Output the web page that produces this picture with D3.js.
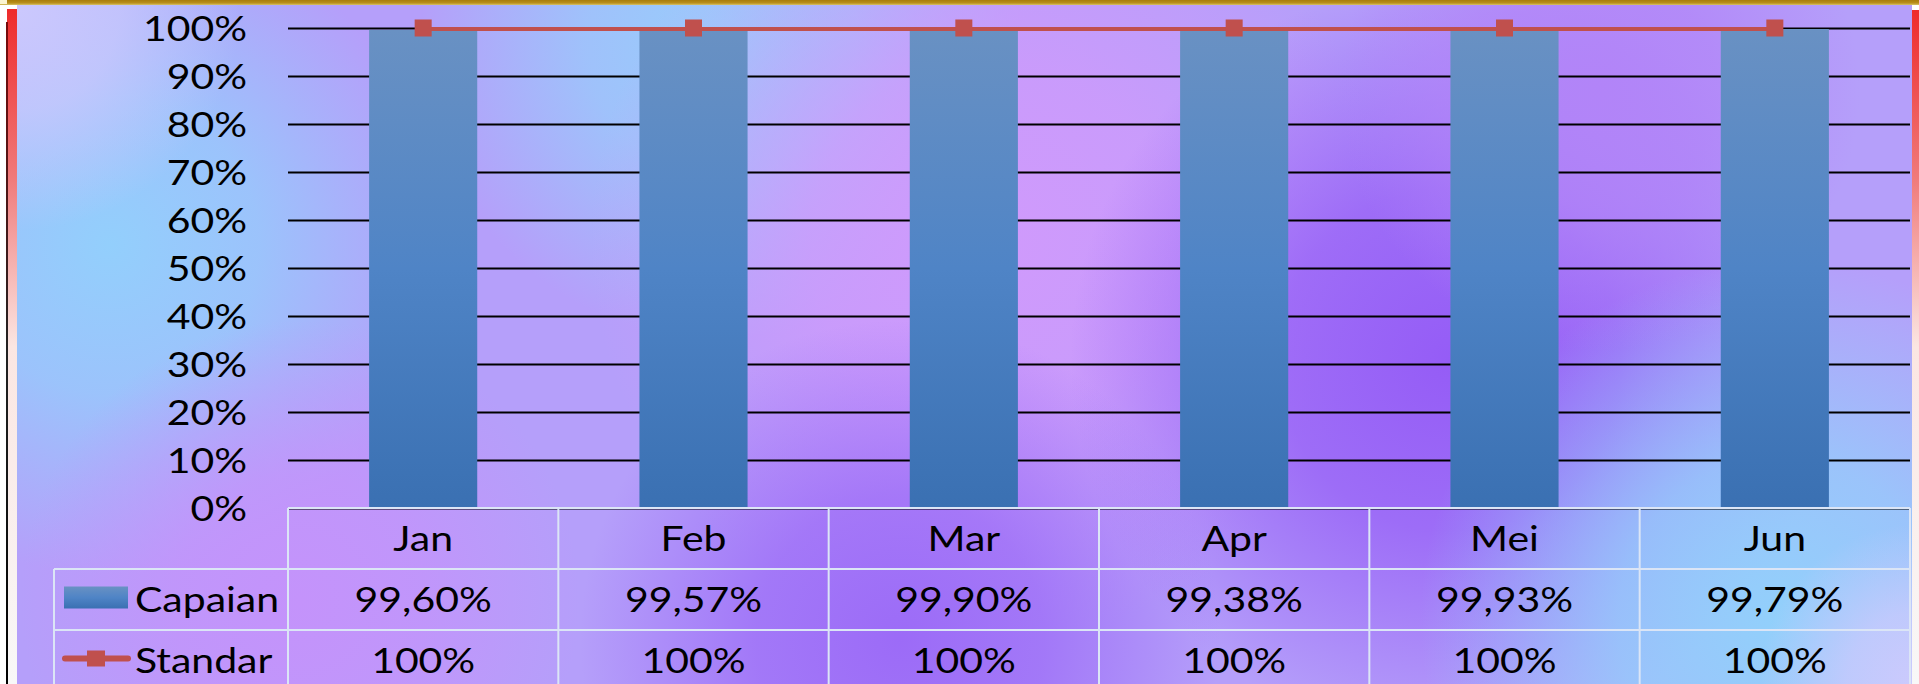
<!DOCTYPE html>
<html>
<head>
<meta charset="utf-8">
<script src="https://cdn.jsdelivr.net/npm/d3@7"></script>
<style>
  html, body { margin: 0; padding: 0; background: #fff; overflow: hidden; }
  svg { display: block; }
  text { font-family: Lato, 'Open Sans', sans-serif; font-size: 35px; fill: #000; }
  /* the source slide was stretched sideways, so the text is too */
  .wide { transform-box: fill-box; transform: scaleX(1.17); }
  .wide.mid { transform-origin: center; }
  .wide.end { transform-origin: right; }
  .wide.start { transform-origin: left; }
</style>
</head>
<body>
<div class="chart"></div>
<script>
const months  = ['Jan', 'Feb', 'Mar', 'Apr', 'Mei', 'Jun'];
const capaian = [0.9960, 0.9957, 0.9990, 0.9938, 0.9993, 0.9979];
const standar = [1, 1, 1, 1, 1, 1];
const series  = ['Capaian', 'Standar'];
const yTicks  = [0, 0.1, 0.2, 0.3, 0.4, 0.5, 0.6, 0.7, 0.8, 0.9, 1];

const svgSize = { width: 1919, height: 684 };
const plot = { left: 288, right: 1910, top: 28, bottom: 508 };
const tableLeft = 54;
const rowH = 61;

const idLocale = d3.formatLocale({ decimal: ',', thousands: '.', grouping: [3], currency: ['Rp', ''] });
const fmtValue = idLocale.format('.2%');
const fmtPct   = idLocale.format('.0%');

const svg = d3.select('.chart')
    .append('svg')
    .attr('width', svgSize.width)
    .attr('height', svgSize.height)
;
const defs = svg.append('defs');

// ---- background: soft blue / violet blotches
const blobs = [
    { cx: 110,  cy: 245, r: 330, c: '#93cffc' },
    { cx: 20,   cy: 10,  r: 220, c: '#cbc8fd' },
    { cx: 720,  cy: 40,  r: 300, c: '#98cdfb' },
    { cx: 990,  cy: 240, r: 400, c: '#d09afc' },
    { cx: 300,  cy: 600, r: 280, c: '#c493fb' },
    { cx: 1450, cy: 360, r: 380, c: '#955cf6' },
    { cx: 900,  cy: 640, r: 320, c: '#9c6bf7' },
    { cx: 1600, cy: 90,  r: 260, c: '#b284f8' },
    { cx: 1780, cy: 620, r: 360, c: '#92d0fb' },
    { cx: 1919, cy: 684, r: 160, c: '#cccafd' },
];

svg.append('rect')
    .attr('x', 17).attr('y', 5)
    .attr('width', 1895).attr('height', 679)
    .attr('fill', '#b59ffa');

blobs.forEach((b, i) => {
    const g = defs.append('radialGradient').attr('id', `blob${i}`);
    g.append('stop').attr('offset', 0).attr('stop-color', b.c).attr('stop-opacity', 1);
    g.append('stop').attr('offset', 0.45).attr('stop-color', b.c).attr('stop-opacity', 0.75);
    g.append('stop').attr('offset', 1).attr('stop-color', b.c).attr('stop-opacity', 0);
});
svg.append('clipPath').attr('id', 'bgclip')
    .append('rect').attr('x', 17).attr('y', 5).attr('width', 1895).attr('height', 679);
svg.append('g').attr('clip-path', 'url(#bgclip)')
    .selectAll('circle').data(blobs).enter()
    .append('circle')
    .attr('cx', d => d.cx).attr('cy', d => d.cy).attr('r', d => d.r)
    .attr('fill', (d, i) => `url(#blob${i})`);

// ---- frame strips
const redFade = defs.append('linearGradient').attr('id', 'redFade')
    .attr('x1', 0).attr('y1', 0).attr('x2', 0).attr('y2', 1);
redFade.append('stop').attr('offset', 0).attr('stop-color', '#ee2b2b');
redFade.append('stop').attr('offset', 0.25).attr('stop-color', '#f07a7a');
redFade.append('stop').attr('offset', 0.5).attr('stop-color', '#fbe6e2');
redFade.append('stop').attr('offset', 1).attr('stop-color', '#f8f8f8');

const darkEdge = defs.append('linearGradient').attr('id', 'darkEdge')
    .attr('x1', 0).attr('y1', 0).attr('x2', 0).attr('y2', 1);
darkEdge.append('stop').attr('offset', 0).attr('stop-color', '#7a0a0a');
darkEdge.append('stop').attr('offset', 0.5).attr('stop-color', '#222');
darkEdge.append('stop').attr('offset', 1).attr('stop-color', '#000');

svg.append('rect').attr('x', 7).attr('y', 9).attr('width', 10).attr('height', 675).attr('fill', 'url(#redFade)');
svg.append('rect').attr('x', 6).attr('y', 22).attr('width', 2).attr('height', 662).attr('fill', 'url(#darkEdge)');
svg.append('rect').attr('x', 1912).attr('y', 10).attr('width', 7).attr('height', 674).attr('fill', 'url(#redFade)');

const gold = defs.append('linearGradient').attr('id', 'gold')
    .attr('x1', 0).attr('y1', 0).attr('x2', 0).attr('y2', 1);
gold.append('stop').attr('offset', 0).attr('stop-color', '#a87c0a');
gold.append('stop').attr('offset', 0.6).attr('stop-color', '#b98f1c');
gold.append('stop').attr('offset', 1).attr('stop-color', '#d8c468');
svg.append('rect').attr('x', 0).attr('y', 0).attr('width', 1919).attr('height', 5).attr('fill', 'url(#gold)');
svg.append('rect').attr('x', 0).attr('y', 0).attr('width', 7).attr('height', 4).attr('fill', '#fbf4d0');

// ---- scales
const x = d3.scaleBand()
    .domain(months)
    .range([ plot.left, plot.right ])
;
const y = d3.scaleLinear()
    .domain([ 0, 1 ])
    .range([ plot.bottom, plot.top ])
;
const barW = x.bandwidth() / 2.5;

// ---- gridlines + y labels
const yAxis = d3.axisLeft(y)
    .tickValues(yTicks)
    .tickFormat(fmtPct)
    .tickSize(-(plot.right - plot.left))
    .tickPadding(41)
;
const yAxisGroup = svg.append('g')
    .attr('transform', `translate(${plot.left}, 0)`)
    .call(yAxis)
;
yAxisGroup.select('.domain').remove();
yAxisGroup.selectAll('.tick line').attr('stroke', '#000').attr('stroke-width', 2);
yAxisGroup.selectAll('.tick text')
    .attr('class', 'wide end')
    .attr('dy', '0.36em');
yAxisGroup.attr('font-size', null).attr('font-family', null);

// ---- bars
const barFill = defs.append('linearGradient').attr('id', 'barFill')
    .attr('x1', 0).attr('y1', 0).attr('x2', 0).attr('y2', 1);
barFill.append('stop').attr('offset', 0).attr('stop-color', '#6991c3');
barFill.append('stop').attr('offset', 0.5).attr('stop-color', '#4f84c6');
barFill.append('stop').attr('offset', 1).attr('stop-color', '#3a70b2');

const data = months.map((m, i) => ({ month: m, capaian: capaian[i], standar: standar[i] }));

svg.append('g').selectAll('rect').data(data).enter()
    .append('rect')
    .attr('x', d => x(d.month) + (x.bandwidth() - barW) / 2)
    .attr('y', d => y(d.capaian))
    .attr('width', barW)
    .attr('height', d => y(0) - y(d.capaian))
    .attr('fill', 'url(#barFill)')
;

// ---- standar line
const lineColor = '#c0504d';
const line = d3.line()
    .x(d => x(d.month) + x.bandwidth() / 2)
    .y(d => y(d.standar) + 1)
;
svg.append('path')
    .datum(data)
    .attr('d', line)
    .attr('fill', 'none')
    .attr('stroke', lineColor)
    .attr('stroke-width', 4)
;
const mk = 17;
svg.append('g').selectAll('rect').data(data).enter()
    .append('rect')
    .attr('x', d => x(d.month) + x.bandwidth() / 2 - mk / 2)
    .attr('y', d => y(d.standar) - mk / 2)
    .attr('width', mk).attr('height', mk)
    .attr('fill', lineColor)
;

// ---- data table
const tbl = svg.append('g').attr('class', 'table');
const rowTop = i => plot.bottom + i * rowH;
const lineCol = '#dbe5f6';

tbl.selectAll('text.cat').data(months).enter()
    .append('text')
    .attr('class', 'cat wide mid')
    .attr('x', d => x(d) + x.bandwidth() / 2)
    .attr('y', rowTop(0) + rowH / 2)
    .attr('dy', '0.36em')
    .attr('text-anchor', 'middle')
    .text(d => d)
;
const rows = [ capaian.map(fmtValue), standar.map(fmtPct) ];
rows.forEach((vals, r) => {
    tbl.selectAll(`text.val${r}`).data(vals).enter()
        .append('text')
        .attr('class', `val${r} wide mid`)
        .attr('x', (d, i) => x(months[i]) + x.bandwidth() / 2)
        .attr('y', rowTop(r + 1) + rowH / 2)
        .attr('dy', '0.36em')
        .attr('text-anchor', 'middle')
        .text(d => d)
    ;
});

// legend keys in first column
const keyX = tableLeft + 10;
tbl.append('rect')
    .attr('x', keyX).attr('y', rowTop(1) + rowH / 2 - 13)
    .attr('width', 64).attr('height', 22)
    .attr('fill', 'url(#barFill)');
tbl.append('line')
    .attr('x1', keyX + 1).attr('x2', keyX + 64)
    .attr('y1', rowTop(2) + rowH / 2 - 2).attr('y2', rowTop(2) + rowH / 2 - 2)
    .attr('stroke', lineColor).attr('stroke-width', 6).attr('stroke-linecap', 'round');
tbl.append('rect')
    .attr('x', keyX + 23).attr('y', rowTop(2) + rowH / 2 - 10)
    .attr('width', 18).attr('height', 16)
    .attr('fill', lineColor);
tbl.selectAll('text.key').data(series).enter()
    .append('text')
    .attr('class', 'key wide start')
    .attr('x', keyX + 71)
    .attr('y', (d, i) => rowTop(i + 1) + rowH / 2)
    .attr('dy', '0.36em')
    .text(d => d)
;

// grid of the table
const hLines = [
    { y: rowTop(0), x1: plot.left, x2: plot.right },
    { y: rowTop(1), x1: tableLeft, x2: plot.right },
    { y: rowTop(2), x1: tableLeft, x2: plot.right },
];
tbl.selectAll('line.h').data(hLines).enter()
    .append('line')
    .attr('class', 'h')
    .attr('x1', d => d.x1).attr('x2', d => d.x2)
    .attr('y1', d => d.y).attr('y2', d => d.y)
    .attr('stroke', lineCol).attr('stroke-width', 2);
const vLines = [ { x: tableLeft, y1: rowTop(1) } ]
    .concat(months.map(m => ({ x: x(m), y1: rowTop(0) })))
    .concat([ { x: plot.right, y1: rowTop(0) } ]);
tbl.selectAll('line.v').data(vLines).enter()
    .append('line')
    .attr('class', 'v')
    .attr('x1', d => d.x).attr('x2', d => d.x)
    .attr('y1', d => d.y1).attr('y2', svgSize.height)
    .attr('stroke', lineCol).attr('stroke-width', 2);
</script>
</body>
</html>
